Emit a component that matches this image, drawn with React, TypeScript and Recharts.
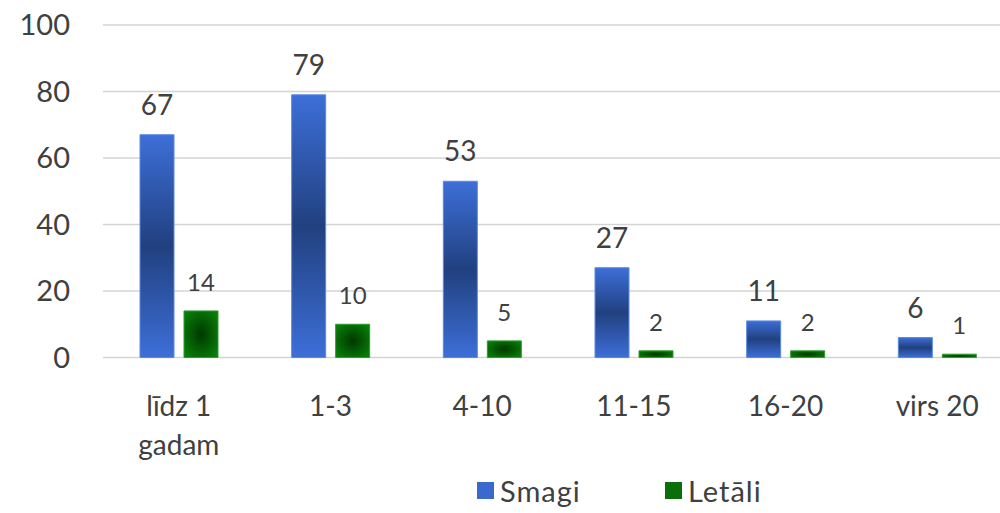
import { Bar, BarChart, CartesianGrid, LabelList, Legend, XAxis, YAxis } from "recharts";

const categories = ["līdz 1 gadam", "1-3", "4-10", "11-15", "16-20", "virs 20"];
const smagi = [67, 79, 53, 27, 11, 6];
const letali = [14, 10, 5, 2, 2, 1];
const yTicks = [0, 20, 40, 60, 80, 100];

const data = categories.map((name, i) => ({ name, smagi: smagi[i], letali: letali[i] }));

const textColor = "#404040";
const font = "Lato, 'Open Sans', sans-serif";

function CategoryTick({ x, y, payload }: any) {
  const label: string = payload.value;
  let lines = [label];
  if (label.length > 8) {
    const cut = label.lastIndexOf(" ");
    lines = [label.slice(0, cut), label.slice(cut + 1)];
  }
  return (
    <text x={x} y={y + 58} textAnchor="middle" fill={textColor} fontSize={28} fontFamily={font}>
      {lines.map((l, i) => (
        <tspan key={i} x={x} dy={i === 0 ? 0 : 39}>
          {l}
        </tspan>
      ))}
    </text>
  );
}

function LegendBox() {
  const items = [
    { label: "Smagi", color: "#3a68cc" },
    { label: "Letāli", color: "#0a6e0a" },
  ];
  return (
    <div style={{ display: "flex", paddingLeft: 477, fontFamily: font, fontSize: 29, letterSpacing: 1, color: textColor }}>
      {items.map((it) => (
        <div key={it.label} style={{ display: "flex", alignItems: "center", gap: 6, width: 188 }}>
          <span style={{ width: 17, height: 17, background: it.color, display: "inline-block" }} />
          <span>{it.label}</span>
        </div>
      ))}
    </div>
  );
}

export default function App() {
  return (
    <div style={{ position: "absolute", left: 0, top: 0, width: 1000, height: 513, overflow: "hidden", background: "#fff" }}>
      <BarChart
        width={1013}
        height={513}
        data={data}
        margin={{ top: 25, right: 0, left: 0, bottom: 0 }}
        barSize={34}
        barGap={10}
      >
        <defs>
          <linearGradient id="blueGrad" x1="0" y1="0" x2="0" y2="1">
            <stop offset="0%" stopColor="#3d6fd8" />
            <stop offset="50%" stopColor="#21407f" />
            <stop offset="100%" stopColor="#3d6fd8" />
          </linearGradient>
          <radialGradient id="greenGrad" cx="50%" cy="50%" r="60%">
            <stop offset="0%" stopColor="#003800" />
            <stop offset="100%" stopColor="#087c08" />
          </radialGradient>
        </defs>
        <CartesianGrid vertical={false} stroke="#d4d4d4" strokeWidth={1.5} />
        <XAxis
          dataKey="name"
          axisLine={false}
          tickLine={false}
          tickSize={0}
          tickMargin={0}
          height={115.5}
          interval={0}
          tick={<CategoryTick />}
        />
        <YAxis
          domain={[0, 100]}
          ticks={yTicks}
          axisLine={false}
          tickLine={false}
          tickSize={0}
          tickMargin={33}
          width={103}
          tick={{ fill: textColor, fontSize: 29, fontFamily: font }}
        />
        <Legend verticalAlign="bottom" height={40} content={<LegendBox />} />
        <Bar dataKey="smagi" name="Smagi" fill="url(#blueGrad)" stroke="#5a8ae0" strokeWidth={1} isAnimationActive={false}>
          <LabelList dataKey="smagi" position="top" offset={20} fill={textColor} fontSize={28} fontFamily={font} />
        </Bar>
        <Bar dataKey="letali" name="Letāli" fill="url(#greenGrad)" stroke="#2f9a2f" strokeWidth={1} isAnimationActive={false}>
          <LabelList dataKey="letali" position="top" offset={20} fill={textColor} fontSize={24} fontFamily={font} />
        </Bar>
      </BarChart>
    </div>
  );
}
